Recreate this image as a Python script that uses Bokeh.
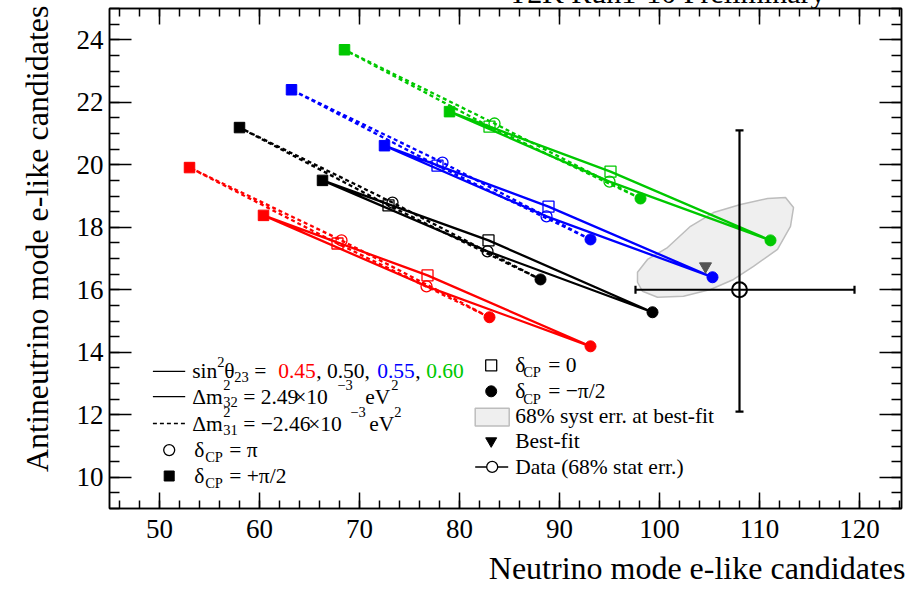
import math

from bokeh.plotting import figure
from bokeh.models import Range1d, LinearAxis, SingleIntervalTicker, Label, Title
from bokeh.embed import file_html
from bokeh.resources import INLINE

# ---------------------------------------------------------------------------
# Predicted e-like candidate counts. Every curve is sampled at
# delta_CP = -pi/2, 0, +pi/2, pi (in that order) and drawn as a closed loop.
# ---------------------------------------------------------------------------
delta_cp = ["-π/2", "0", "+π/2", "π"]
sin2_theta23 = ["0.45", "0.50", "0.55", "0.60"]

# normal ordering, dm2_32 = +2.49e-3 eV^2 (solid)
nh_nue_045 = [93.1, 76.8, 60.4, 76.7]
nh_nuebar_045 = [14.19, 16.46, 18.38, 16.11]
nh_nue_050 = [99.3, 82.9, 66.3, 82.8]
nh_nuebar_050 = [15.28, 17.58, 19.50, 17.23]
nh_nue_055 = [105.3, 88.9, 72.5, 88.7]
nh_nuebar_055 = [16.40, 18.66, 20.61, 18.35]
nh_nue_060 = [111.1, 95.1, 79.0, 95.0]
nh_nuebar_060 = [17.58, 19.78, 21.70, 19.46]

# inverted ordering, dm2_31 = -2.46e-3 eV^2 (dashed)
ih_nue_045 = [83.0, 67.8, 53.0, 68.2]
ih_nuebar_045 = [15.12, 17.48, 19.91, 17.58]
ih_nue_050 = [88.1, 72.9, 58.0, 73.3]
ih_nuebar_050 = [16.33, 18.70, 21.19, 18.79]
ih_nue_055 = [93.1, 77.8, 63.2, 78.3]
ih_nuebar_055 = [17.61, 19.97, 22.40, 20.07]
ih_nue_060 = [98.1, 83.0, 68.5, 83.5]
ih_nuebar_060 = [18.92, 21.22, 23.68, 21.32]

# 68% systematic-error region around the best-fit prediction
syst_nue = [97.8, 98.8, 100.8, 103.1, 105.4, 108.1, 110.8, 112.6, 113.4,
            113.1, 111.8, 109.4, 107.4, 105.1, 102.4, 99.8, 98.3, 97.8]
syst_nuebar = [16.56, 16.97, 17.35, 18.03, 18.47, 18.73, 18.92, 18.95, 18.63,
               18.03, 17.29, 16.75, 16.33, 16.01, 15.79, 15.76, 15.95, 16.24]

# best-fit prediction
bestfit_nue = [104.6]
bestfit_nuebar = [16.75]

# observed data with 68% statistical intervals
data_nue = [108]
data_nuebar = [16]
data_nue_lo, data_nue_hi = [97.6], [119.5]
data_nuebar_lo, data_nuebar_hi = [12.1], [21.1]

# ---------------------------------------------------------------------------
FONT = "Liberation Serif"
RED, BLACK, BLUE, GREEN = "#ff0000", "#000000", "#0000ff", "#00c800"
theta_colors = [RED, BLACK, BLUE, GREEN]

p = figure(width=912, height=593,
           x_range=Range1d(45, 124.2), y_range=Range1d(9, 25),
           x_axis_type=None, y_axis_type=None,
           output_backend="svg", toolbar_location=None,
           min_border_left=109, min_border_right=11,
           min_border_top=8, min_border_bottom=84)
p.outline_line_color = "black"
p.outline_line_width = 1.5
p.background_fill_color = "white"
p.border_fill_color = "white"


def make_axis(interval, minor, show_labels, tick_in, minor_in, standoff=5):
    ax = LinearAxis(ticker=SingleIntervalTicker(interval=interval, num_minor_ticks=minor))
    ax.axis_line_color = "black"
    ax.axis_line_width = 1.5
    ax.major_tick_line_width = 1.5
    ax.minor_tick_line_width = 1.5
    ax.major_tick_in = tick_in
    ax.major_tick_out = 0
    ax.minor_tick_in = minor_in
    ax.minor_tick_out = 0
    if show_labels:
        ax.major_label_text_font = FONT
        ax.major_label_text_font_size = "27px"
        ax.major_label_text_color = "black"
        ax.major_label_standoff = standoff
    else:
        ax.major_label_text_font_size = "0px"
        ax.major_label_text_color = None
        ax.major_label_standoff = 0
    return ax


p.add_layout(make_axis(10, 5, True, 16, 8, standoff=11), "below")
p.add_layout(make_axis(10, 5, False, 16, 8), "above")
p.add_layout(make_axis(2, 4, True, 22, 10, standoff=6), "left")
p.add_layout(make_axis(2, 4, False, 22, 10), "right")


def side_title(text, size, **kw):
    return Title(text=text, text_font=FONT, text_font_size=f"{size}px",
                 text_font_style="normal", text_color="black", **kw)


# axis titles, right-aligned to the frame ends
p.add_layout(side_title("Neutrino mode e-like candidates", 32,
                        align="right", offset=-4, standoff=15), "below")
p.add_layout(side_title("Antineutrino mode e-like candidates", 32,
                        align="right", offset=-3, standoff=34, vertical_align="top"), "left")

# header line sitting on top of the frame (an empty second line lifts it
# above the frame edge)
try:
    header = side_title("T2K Run1-10 Preliminary\n ", 30, align="right", offset=76,
                        standoff=-58, text_line_height=0.85)
    p.add_layout(header, "above")
except ValueError:
    p.add_layout(Label(x=116.57, y=25.12, text="T2K Run1-10 Preliminary", text_font=FONT,
                       text_font_size="30px", text_align="right",
                       text_baseline="alphabetic"))

# systematic-error band
p.patch(syst_nue, syst_nuebar, fill_color="#efefef", line_color="#bdbdbd", line_width=1.5)

curves = [
    (nh_nue_045, nh_nuebar_045, "solid", RED),
    (nh_nue_050, nh_nuebar_050, "solid", BLACK),
    (nh_nue_055, nh_nuebar_055, "solid", BLUE),
    (nh_nue_060, nh_nuebar_060, "solid", GREEN),
    (ih_nue_045, ih_nuebar_045, "4 3", RED),
    (ih_nue_050, ih_nuebar_050, "4 3", BLACK),
    (ih_nue_055, ih_nuebar_055, "4 3", BLUE),
    (ih_nue_060, ih_nuebar_060, "4 3", GREEN),
]

for nue, nuebar, dash, color in curves:
    p.line(nue + nue[:1], nuebar + nuebar[:1], line_color=color,
           line_width=2.3, line_dash=dash, line_join="round")

for nue, nuebar, dash, color in curves:
    # delta_CP = 0 : open square
    p.scatter([nue[1]], [nuebar[1]], marker="square", size=11,
              fill_color=None, line_color=color, line_width=1.3)
    # delta_CP = pi : open circle
    p.scatter([nue[3]], [nuebar[3]], marker="circle", size=11,
              fill_color=None, line_color=color, line_width=1.3)
    # delta_CP = -pi/2 : filled circle
    p.scatter([nue[0]], [nuebar[0]], marker="circle", size=11,
              fill_color=color, line_color=color)
    # delta_CP = +pi/2 : filled square
    p.scatter([nue[2]], [nuebar[2]], marker="square", size=10.5,
              fill_color=color, line_color=color)

# best fit
p.scatter(bestfit_nue, bestfit_nuebar, marker="inverted_triangle", size=12,
          fill_color="#555555", line_color="#555555")

# data with 68% stat error bars
p.segment(data_nue_lo, data_nuebar, data_nue_hi, data_nuebar, line_color="black", line_width=2.2)
p.segment(data_nue, data_nuebar_lo, data_nue, data_nuebar_hi, line_color="black", line_width=2.2)
p.scatter(data_nue_lo + data_nue_hi, data_nuebar + data_nuebar, marker="dash", angle=math.pi / 2,
          size=8, line_color="black", line_width=2.2)
p.scatter(data_nue + data_nue, data_nuebar_lo + data_nuebar_hi, marker="dash",
          size=8, line_color="black", line_width=2.2)
p.scatter(data_nue, data_nuebar, marker="circle", size=15, fill_color=None,
          line_color="black", line_width=2)


def put(x, y, text, size=21.5, color="black", align="left", baseline="middle"):
    p.add_layout(Label(x=x, y=y, text=text, text_font=FONT, text_font_size=f"{size}px",
                       text_color=color, text_align=align, text_baseline=baseline))


SUB = 14.5

# ---------------- legend, left block ----------------
rows_l = [13.39, 12.58, 11.72, 10.87, 10.04]
p.line([49.34, 52.57], [rows_l[0], rows_l[0]], line_color="black", line_width=1.3)
p.line([49.34, 52.57], [rows_l[1], rows_l[1]], line_color="black", line_width=1.3)
p.line([49.34, 52.57], [rows_l[2], rows_l[2]], line_color="black", line_width=1.3, line_dash="4 3")
p.scatter([50.97], [rows_l[3]], marker="circle", size=11, fill_color=None, line_color="black", line_width=1.3)
p.scatter([50.97], [rows_l[4]], marker="square", size=10, fill_color="black", line_color="black")

put(53.27, rows_l[0], "sin")
put(55.77, 13.68, "2", size=SUB)
put(56.47, rows_l[0], "θ")
put(57.47, 13.20, "23", size=SUB)
put(59.47, rows_l[0], "=")
put(61.87, rows_l[0], sin2_theta23[0], color=theta_colors[0])
put(65.67, rows_l[0], ", " + sin2_theta23[1] + ",", color=theta_colors[1])
put(71.77, rows_l[0], sin2_theta23[2], color=theta_colors[2])
put(75.57, rows_l[0], ",")
put(76.67, rows_l[0], sin2_theta23[3], color=theta_colors[3])

put(53.27, rows_l[1], "Δm")
put(56.37, 12.95, "2", size=SUB)
put(56.37, 12.40, "32", size=SUB)
put(58.37, rows_l[1], "= 2.49")
put(63.47, rows_l[1], "×10")
put(67.77, 12.95, "−3", size=SUB)
put(70.57, rows_l[1], "eV")
put(73.17, 12.95, "2", size=SUB)

put(53.27, rows_l[2], "Δm")
put(56.37, 12.08, "2", size=SUB)
put(56.37, 11.51, "31", size=SUB)
put(58.37, rows_l[2], "= −2.46")
put(64.87, rows_l[2], "×10")
put(69.07, 12.08, "−3", size=SUB)
put(70.97, rows_l[2], "eV")
put(73.47, 12.08, "2", size=SUB)

put(53.47, rows_l[3], "δ")
put(54.57, 10.65, "CP", size=SUB)
put(56.97, rows_l[3], "= π")
put(53.47, rows_l[4], "δ")
put(54.57, 9.81, "CP", size=SUB)
put(56.97, rows_l[4], "= +π/2")

# ---------------- legend, right block ----------------
rows_r = [13.58, 12.75, 11.96, 11.16, 10.33]
p.scatter([83.17], [rows_r[0]], marker="square", size=11, fill_color=None, line_color="black", line_width=1.3)
p.scatter([83.17], [rows_r[1]], marker="circle", size=11, fill_color="black", line_color="black")
p.quad(left=[81.57], right=[84.97], bottom=[11.64], top=[12.21],
       fill_color="#efefef", line_color="#bdbdbd", line_width=1.5)
p.scatter([83.17], [rows_r[3]], marker="inverted_triangle", size=11, fill_color="black", line_color="black")
p.line([81.57, 84.87], [rows_r[4], rows_r[4]], line_color="black", line_width=1.5)
p.scatter([83.27], [rows_r[4]], marker="circle", size=11, fill_color="white", line_color="black", line_width=1.3)

put(85.57, rows_r[0], "δ")
put(86.37, 13.36, "CP", size=SUB)
put(88.87, rows_r[0], "= 0")
put(85.57, rows_r[1], "δ")
put(86.37, 12.50, "CP", size=SUB)
put(88.87, rows_r[1], "= −π/2")
put(85.57, rows_r[2], "68% syst err. at best-fit")
put(85.57, rows_r[3], "Best-fit")
put(85.57, rows_r[4], "Data (68% stat err.)")

open("out.html", "w").write(file_html(p, INLINE))
